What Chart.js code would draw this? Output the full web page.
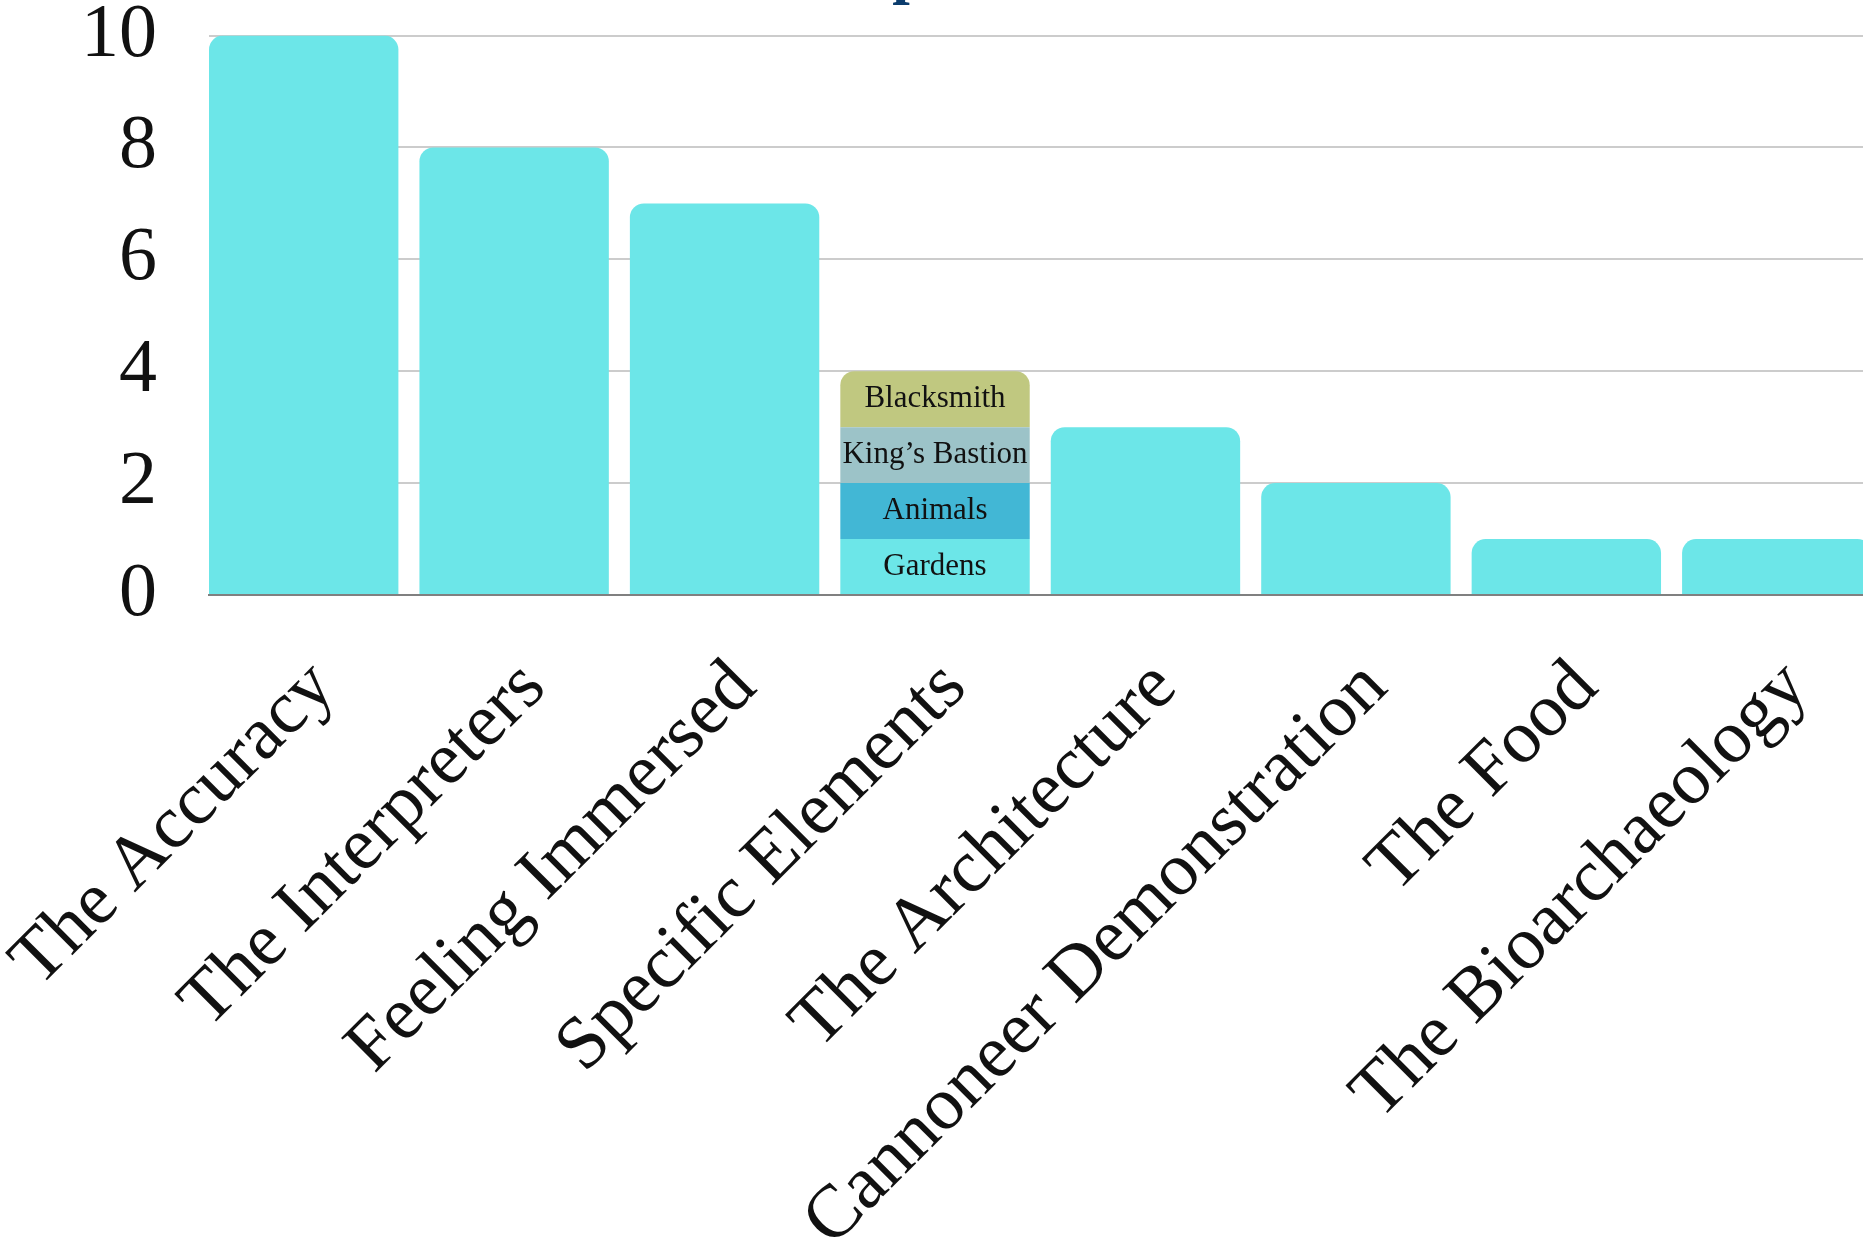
<!DOCTYPE html>
<html>
<head>
<meta charset="utf-8">
<title>Visitor Impressions</title>
<script src="https://cdn.jsdelivr.net/npm/chart.js@4.4.1/dist/chart.umd.min.js"></script>
<style>
  html, body { margin: 0; padding: 0; background: #fff; overflow: hidden; }
  body { width: 1863px; height: 1239px; position: relative; }
  #wrap { position: absolute; left: -126px; top: -63px; width: 2008px; height: 1310px; }
</style>
</head>
<body>
<div id="wrap"><canvas id="chart"></canvas></div>
<script>
// values
var categories = ["The Accuracy", "The Interpreters", "Feeling Immersed", "Specific Elements",
                  "The Architecture", "Cannoneer Demonstration", "The Food", "The Bioarchaeology"];
var positions = [0, 1, 2, 3, 4, 5, 6, 7];
var totals    = [10, 8, 7, null, 3, 2, 1, 1];
var gardens   = [null, null, null, 1, null, null, null, null];
var animals   = [null, null, null, 1, null, null, null, null];
var bastion   = [null, null, null, 1, null, null, null, null];
var blacksmith = [null, null, null, 1, null, null, null, null];
var yTicks = [0, 2, 4, 6, 8, 10];

var serif = "'Liberation Serif', 'Times New Roman', serif";

// writes the segment name in the middle of each stacked piece
var segmentLabels = {
    id: 'segmentLabels',
    afterDatasetsDraw: function (chart) {
        var ctx = chart.ctx;
        ctx.save();
        ctx.font = "31px " + serif;
        ctx.fillStyle = "#111";
        ctx.textAlign = "center";
        ctx.textBaseline = "middle";
        chart.data.datasets.forEach(function (ds, i) {
            if (!ds.showLabel) return;
            chart.getDatasetMeta(i).data.forEach(function (bar, j) {
                if (ds.data[j] == null) return;
                var p = bar.getCenterPoint();
                ctx.fillText(ds.label, p.x, p.y);
            });
        });
        ctx.restore();
    }
};

var chart = new Chart(document.getElementById("chart"), {
    type: 'bar',
    data: {
        labels: positions,
        datasets: [
            { label: 'Responses', data: totals, backgroundColor: '#6ce6e8', borderRadius: 14, borderSkipped: 'start' },
            { label: 'Gardens', data: gardens, backgroundColor: '#6ce6e8', showLabel: true },
            { label: 'Animals', data: animals, backgroundColor: '#42b7d5', showLabel: true },
            { label: 'King\u2019s Bastion', data: bastion, backgroundColor: '#9cc3c8', showLabel: true },
            { label: 'Blacksmith', data: blacksmith, backgroundColor: '#c0c880', showLabel: true, borderRadius: 14, borderSkipped: 'start' }
        ]
    },
    options: {
        responsive: true,
        maintainAspectRatio: false,
        animation: false,
        layout: { padding: 0 },
        datasets: { bar: { categoryPercentage: 0.9, barPercentage: 1 } },
        plugins: {
            legend: { display: false },
            tooltip: { enabled: false },
            title: {
                display: true,
                text: 'Visitor Impressions',
                color: '#0b3c6d',
                font: { family: serif, size: 63, weight: 'bold', lineHeight: 1.2 },
                padding: { top: 0, bottom: 23 }
            }
        },
        scales: {
            x: {
                type: 'linear',
                offset: false,
                stacked: true,
                min: -0.45,
                max: 7.5,
                grid: { display: false, drawTicks: false, offset: false },
                border: { display: true, color: '#808080', width: 2 },
                ticks: {
                    autoSkip: false,
                    minRotation: 45,
                    maxRotation: 45,
                    padding: 49,
                    labelOffset: 20,
                    color: '#111',
                    font: { family: serif, size: 75 },
                    callback: function (value) { return categories[value]; }
                },
                afterBuildTicks: function (scale) {
                    scale.ticks = positions.map(function (v) { return { value: v }; });
                },
                afterFit: function (scale) {
                    scale.height = 1310 - 658;
                    scale.paddingLeft = 0;
                    scale.paddingRight = 0;
                }
            },
            y: {
                stacked: true,
                min: 0,
                max: 10,
                grid: { color: '#cccccc', lineWidth: 2, drawTicks: false },
                border: { display: false },
                ticks: {
                    padding: 52,
                    color: '#111',
                    font: { family: serif, size: 76, lineHeight: 1.2 }
                },
                afterBuildTicks: function (scale) {
                    scale.ticks = yTicks.map(function (v) { return { value: v }; });
                },
                afterFit: function (scale) {
                    scale.width = 335;
                }
            }
        }
    },
    plugins: [segmentLabels]
});
</script>
</body>
</html>
